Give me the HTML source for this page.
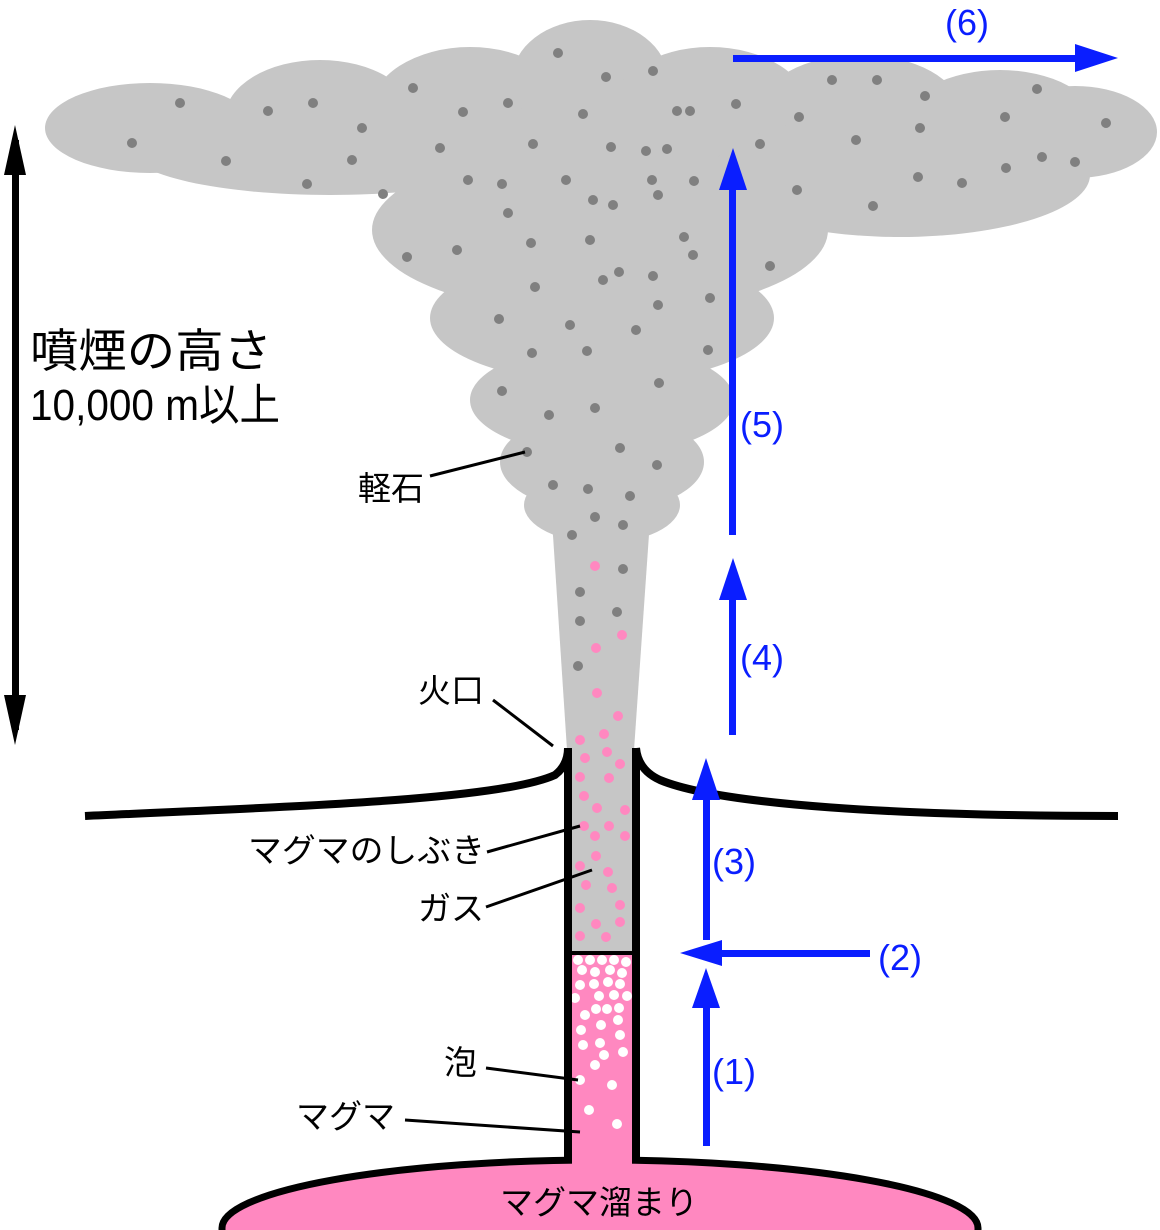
<!DOCTYPE html>
<html><head><meta charset="utf-8"><style>
html,body{margin:0;padding:0;background:#fff;overflow:hidden;width:1160px;height:1230px;}
svg{display:block}
text{font-family:"Liberation Sans","Noto Sans CJK JP",sans-serif;}
</style></head><body>
<svg width="1160" height="1230" viewBox="0 0 1160 1230" xmlns="http://www.w3.org/2000/svg">
<g fill="#c6c6c6">
<ellipse cx="150" cy="128" rx="105" ry="45"/>
<ellipse cx="320" cy="118" rx="95" ry="58"/>
<ellipse cx="470" cy="112" rx="100" ry="65"/>
<ellipse cx="590" cy="80" rx="78" ry="60"/>
<ellipse cx="710" cy="112" rx="100" ry="65"/>
<ellipse cx="860" cy="110" rx="100" ry="55"/>
<ellipse cx="1000" cy="122" rx="95" ry="52"/>
<ellipse cx="1075" cy="132" rx="82" ry="46"/>
<rect x="120" y="110" width="980" height="60"/>
<ellipse cx="900" cy="175" rx="190" ry="62"/>
<ellipse cx="330" cy="150" rx="200" ry="45"/>
<ellipse cx="600" cy="230" rx="228" ry="85"/>
<ellipse cx="602" cy="318" rx="172" ry="65"/>
<ellipse cx="602" cy="400" rx="132" ry="55"/>
<ellipse cx="602" cy="462" rx="102" ry="50"/>
<ellipse cx="602" cy="505" rx="78" ry="38"/>
<polygon points="552,520 650,520 634,750 567,750"/>
<rect x="572" y="745" width="60" height="208"/>
</g>
<g fill="#808080">
<circle cx="132" cy="143" r="5"/><circle cx="180" cy="103" r="5"/><circle cx="226" cy="161" r="5"/><circle cx="268" cy="111" r="5"/><circle cx="313" cy="103" r="5"/><circle cx="307" cy="184" r="5"/><circle cx="352" cy="160" r="5"/><circle cx="362" cy="128" r="5"/><circle cx="383" cy="194" r="5"/><circle cx="413" cy="88" r="5"/><circle cx="440" cy="148" r="5"/><circle cx="463" cy="112" r="5"/><circle cx="468" cy="180" r="5"/><circle cx="508" cy="103" r="5"/><circle cx="502" cy="184" r="5"/><circle cx="508" cy="213" r="5"/><circle cx="533" cy="144" r="5"/><circle cx="558" cy="53" r="5"/><circle cx="566" cy="180" r="5"/><circle cx="583" cy="114" r="5"/><circle cx="593" cy="200" r="5"/><circle cx="606" cy="77" r="5"/><circle cx="611" cy="147" r="5"/><circle cx="653" cy="71" r="5"/><circle cx="646" cy="151" r="5"/><circle cx="652" cy="180" r="5"/><circle cx="658" cy="195" r="5"/><circle cx="667" cy="149" r="5"/><circle cx="677" cy="111" r="5"/><circle cx="690" cy="111" r="5"/><circle cx="694" cy="181" r="5"/><circle cx="613" cy="205" r="5"/><circle cx="736" cy="104" r="5"/><circle cx="760" cy="144" r="5"/><circle cx="799" cy="117" r="5"/><circle cx="797" cy="190" r="5"/><circle cx="832" cy="80" r="5"/><circle cx="856" cy="140" r="5"/><circle cx="877" cy="80" r="5"/><circle cx="873" cy="206" r="5"/><circle cx="925" cy="96" r="5"/><circle cx="920" cy="128" r="5"/><circle cx="918" cy="177" r="5"/><circle cx="962" cy="183" r="5"/><circle cx="1005" cy="117" r="5"/><circle cx="1006" cy="168" r="5"/><circle cx="1037" cy="89" r="5"/><circle cx="1042" cy="157" r="5"/><circle cx="1075" cy="162" r="5"/><circle cx="1106" cy="123" r="5"/>
<circle cx="407" cy="257" r="5"/><circle cx="457" cy="250" r="5"/><circle cx="531" cy="243" r="5"/><circle cx="590" cy="240" r="5"/><circle cx="684" cy="237" r="5"/><circle cx="693" cy="255" r="5"/><circle cx="770" cy="266" r="5"/><circle cx="535" cy="287" r="5"/><circle cx="603" cy="280" r="5"/><circle cx="619" cy="272" r="5"/><circle cx="653" cy="276" r="5"/><circle cx="658" cy="305" r="5"/><circle cx="710" cy="298" r="5"/><circle cx="499" cy="319" r="5"/><circle cx="570" cy="325" r="5"/><circle cx="636" cy="330" r="5"/><circle cx="532" cy="353" r="5"/><circle cx="587" cy="351" r="5"/><circle cx="708" cy="350" r="5"/><circle cx="659" cy="383" r="5"/><circle cx="502" cy="391" r="5"/><circle cx="549" cy="415" r="5"/><circle cx="595" cy="408" r="5"/><circle cx="527" cy="452" r="5"/><circle cx="620" cy="448" r="5"/><circle cx="657" cy="465" r="5"/><circle cx="553" cy="485" r="5"/><circle cx="588" cy="489" r="5"/><circle cx="630" cy="496" r="5"/><circle cx="595" cy="517" r="5"/><circle cx="623" cy="525" r="5"/><circle cx="572" cy="535" r="5"/><circle cx="580" cy="592" r="5"/><circle cx="617" cy="612" r="5"/><circle cx="578" cy="666" r="5"/><circle cx="580" cy="621" r="5"/><circle cx="623" cy="569" r="5"/>
</g>
<g fill="#ff88c0">
<circle cx="595" cy="566" r="5"/><circle cx="622" cy="635" r="5"/><circle cx="596" cy="648" r="5"/><circle cx="597" cy="693" r="5"/><circle cx="618" cy="716" r="5"/><circle cx="604" cy="734" r="5"/><circle cx="580" cy="740" r="5"/>
<circle cx="585" cy="758" r="5"/><circle cx="607" cy="752" r="5"/><circle cx="620" cy="764" r="5"/><circle cx="580" cy="777" r="5"/><circle cx="609" cy="778" r="5"/><circle cx="584" cy="796" r="5"/><circle cx="597" cy="808" r="5"/><circle cx="625" cy="810" r="5"/><circle cx="609" cy="826" r="5"/><circle cx="584" cy="826" r="5"/><circle cx="595" cy="836" r="5"/><circle cx="625" cy="836" r="5"/><circle cx="596" cy="856" r="5"/><circle cx="580" cy="866" r="5"/><circle cx="608" cy="872" r="5"/><circle cx="586" cy="885" r="5"/><circle cx="612" cy="888" r="5"/><circle cx="620" cy="905" r="5"/><circle cx="580" cy="908" r="5"/><circle cx="596" cy="924" r="5"/><circle cx="620" cy="922" r="5"/><circle cx="580" cy="936" r="5"/><circle cx="606" cy="937" r="5"/>
</g>
<rect x="572" y="953" width="60" height="215" fill="#ff88c0"/>
<path d="M222,1230 L222,1228 A378,68 0 0 1 978,1228 L978,1230 Z" fill="#ff88c0"/>
<path d="M222,1230 L222,1228 A378,68 0 0 1 978,1228 L978,1230" fill="none" stroke="#000" stroke-width="7"/>
<rect x="572" y="1150" width="60" height="30" fill="#ff88c0"/>
<g fill="#fff">
<circle cx="578" cy="960" r="5"/><circle cx="590" cy="960" r="5"/><circle cx="602" cy="960" r="5"/><circle cx="614" cy="960" r="5"/><circle cx="626" cy="962" r="5"/><circle cx="582" cy="970" r="5"/><circle cx="595" cy="972" r="5"/><circle cx="610" cy="970" r="5"/><circle cx="622" cy="973" r="5"/><circle cx="580" cy="985" r="5"/><circle cx="594" cy="984" r="5"/><circle cx="608" cy="982" r="5"/><circle cx="620" cy="984" r="5"/><circle cx="575" cy="998" r="5"/><circle cx="599" cy="996" r="5"/><circle cx="614" cy="995" r="5"/><circle cx="627" cy="996" r="5"/><circle cx="585" cy="1015" r="5"/><circle cx="596" cy="1009" r="5"/><circle cx="607" cy="1009" r="5"/><circle cx="619" cy="1008" r="5"/><circle cx="601" cy="1025" r="5"/><circle cx="618" cy="1020" r="5"/><circle cx="581" cy="1030" r="5"/><circle cx="620" cy="1035" r="5"/><circle cx="583" cy="1045" r="5"/><circle cx="600" cy="1043" r="5"/><circle cx="623" cy="1052" r="5"/><circle cx="604" cy="1055" r="5"/><circle cx="595" cy="1065" r="5"/><circle cx="580" cy="1080" r="5"/><circle cx="612" cy="1085" r="5"/><circle cx="589" cy="1110" r="5"/><circle cx="617" cy="1124" r="5"/>
</g>
<g stroke="#000" stroke-width="8" fill="none">
<line x1="568" y1="748" x2="568" y2="1163"/>
<line x1="636" y1="748" x2="636" y2="1163"/>
<path d="M85,816 C300,806 500,800 555,775 Q568,765 568,748"/>
<path d="M636,748 Q638,770 660,780 C720,805 900,816 1118,816"/>
</g>
<line x1="572" y1="953" x2="632" y2="953" stroke="#000" stroke-width="4"/>
<g stroke="#000" stroke-width="3">
<line x1="430" y1="476" x2="525" y2="452"/>
<line x1="493" y1="700" x2="553" y2="746"/>
<line x1="487" y1="852" x2="580" y2="826"/>
<line x1="486" y1="907" x2="592" y2="870"/>
<line x1="486" y1="1068" x2="578" y2="1080"/>
<line x1="405" y1="1120" x2="580" y2="1132"/>
</g>
<g fill="#000">
<rect x="12" y="140" width="7" height="590"/>
<polygon points="15,125 4,175 26,175"/>
<polygon points="15,745 4,695 26,695"/>
</g>
<g fill="#0a1eff">
<rect x="703" y="1000" width="7" height="146"/>
<polygon points="706,968 692,1008 720,1008"/>
<rect x="715" y="950" width="155" height="7"/>
<polygon points="680,953 722,940 722,966"/>
<rect x="703" y="795" width="7" height="145"/>
<polygon points="706,758 692,800 720,800"/>
<rect x="729" y="595" width="7" height="140"/>
<polygon points="733,558 719,600 747,600"/>
<rect x="729" y="185" width="7" height="350"/>
<polygon points="733,148 719,190 747,190"/>
<rect x="733" y="55" width="350" height="7"/>
<polygon points="1118,58 1075,44 1075,72"/>
</g>
<g fill="#0a1eff" font-size="36">
<text x="712" y="1084">(1)</text>
<text x="878" y="970">(2)</text>
<text x="712" y="874">(3)</text>
<text x="740" y="670">(4)</text>
<text x="740" y="437">(5)</text>
<text x="945" y="35">(6)</text>
</g>
<g fill="#000" font-size="33">
<text x="30" y="367" font-size="46" textLength="242" lengthAdjust="spacingAndGlyphs">噴煙の高さ</text>
<text x="30" y="420" font-size="44" textLength="250" lengthAdjust="spacingAndGlyphs">10,000 m以上</text>
<text x="358" y="500">軽石</text>
<text x="418" y="702">火口</text>
<text x="248" y="862" textLength="237" lengthAdjust="spacingAndGlyphs">マグマのしぶき</text>
<text x="418" y="920">ガス</text>
<text x="444" y="1074">泡</text>
<text x="296" y="1128">マグマ</text>
<text x="500" y="1214" textLength="198" lengthAdjust="spacingAndGlyphs">マグマ溜まり</text>
</g>
</svg>
</body></html>
